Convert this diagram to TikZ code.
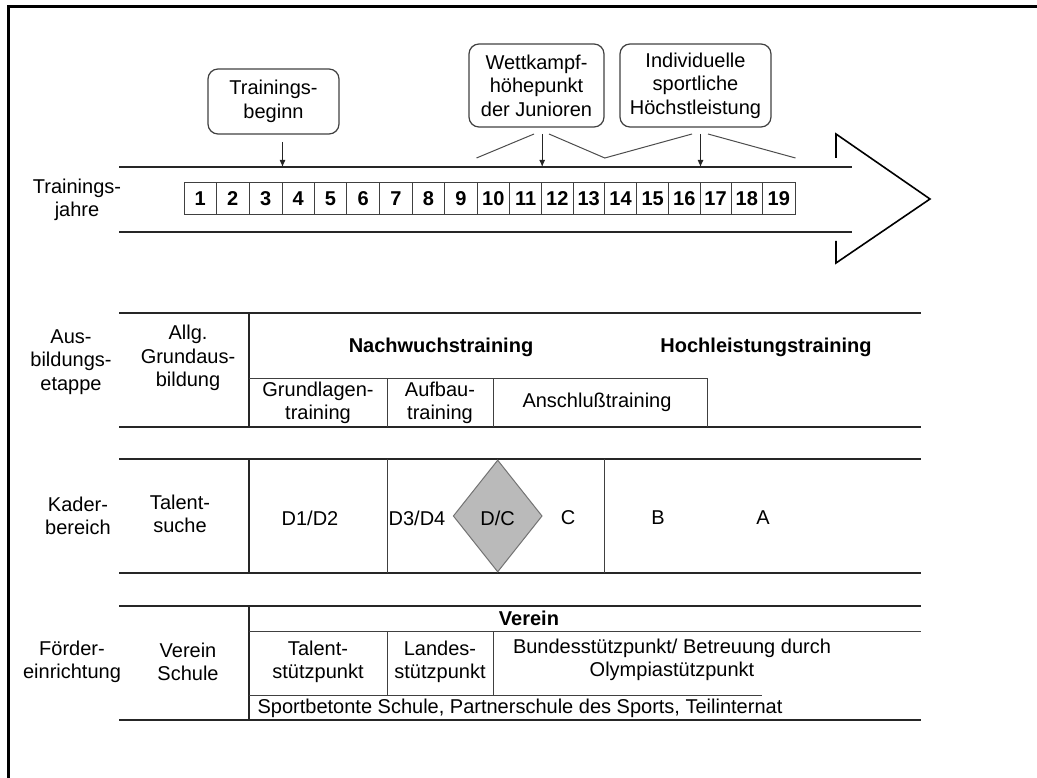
\documentclass[tikz,border=0pt]{standalone}
\usepackage{fontspec}
\setmainfont{Liberation Sans}
\usetikzlibrary{shapes.geometric,arrows.meta}
\begin{document}
\begin{tikzpicture}[x=1pt,y=-1pt,
  txt/.style={align=center,font=\fontsize{20}{23.5}\selectfont,inner sep=0pt},
  btxt/.style={align=center,font=\fontsize{20}{23.5}\selectfont\bfseries,inner sep=0pt},
  rule/.style={line width=2.2pt,draw=black!85},
  sep/.style={line width=1pt,draw=black!75},
  callout/.style={txt,draw=black!75,line width=1.2pt,rounded corners=10pt},
  yearbox/.style={draw=black!75,line width=1pt,minimum height=32pt,inner sep=0pt,
    font=\fontsize{20}{23.5}\selectfont\bfseries},
  pointer/.style={line width=1pt,draw=black!85,-{Latex[length=7pt,width=6pt]}},
  brace/.style={line width=1pt,draw=black!70},
  outline/.style={line width=1.6pt,draw=black},
  frame/.style={line width=3pt,draw=black}]
\useasboundingbox (0,0) rectangle (1037,778);

% outer frame (top and left edges)
\coordinate (f-tl) at (8,7);
\coordinate (f-tr) at (1037,7);
\coordinate (f-bl) at (8,778);
\draw[frame] (f-tr) -- (f-tl) -- (f-bl);

% ---------------- time line ----------------
\coordinate (tl-a) at (119,167);
\coordinate (tl-b) at (852,167);
\coordinate (bl-a) at (119,232);
\coordinate (bl-b) at (852,232);
\draw[rule,line width=2pt] (tl-a) -- (tl-b);
\draw[rule,line width=2pt] (bl-a) -- (bl-b);
% arrow head
\coordinate (ah-1) at (836,158);
\coordinate (ah-2) at (836,134);
\coordinate (ah-tip) at (930,199);
\coordinate (ah-3) at (836,263);
\coordinate (ah-4) at (836,241);
\draw[outline,line join=miter] (ah-1) -- (ah-2) -- (ah-tip) -- (ah-3) -- (ah-4);

\node[txt] (tj) at (77,200) {Trainings-\\jahre};

% year boxes
\foreach \i/\a/\b in {1/184/216.3,2/216.3/249.3,3/249.3/282,4/282/314.3,5/314.3/346.7,
  6/346.7/379.7,7/379.7/412.3,8/412.3/444.7,9/444.7/477,10/477/509.5,11/509.5/541.7,
  12/541.7/573,13/573/604.3,14/604.3/636.7,15/636.7/668.7,16/668.7/700,17/700/731,
  18/731/762.7,19/762.7/795}
  \node[yearbox,minimum width={\b-\a}] (yr\i) at ({(\a+\b)/2},199) {\i};

% call-outs
\node[callout,minimum width=131pt,minimum height=65pt] (cb1) at (273.5,101.5)
  {Trainings-\\beginn};
\node[callout,minimum width=135pt,minimum height=83pt] (cb2) at (536.5,85.5)
  {Wettkampf-\\höhepunkt\\der Junioren};
\node[callout,minimum width=151pt,minimum height=83pt] (cb3) at (695.5,85.5)
  {Individuelle\\sportliche\\Höchstleistung};

% pointers onto the time line
\coordinate (p1) at (yr3.east |- 0,142);
\coordinate (p2) at (yr11.east |- 0,134);
\coordinate (p3) at (yr16.east |- 0,134);
\draw[pointer] (p1) -- (p1 |- tl-a);
\draw[pointer] (p2) -- (p2 |- tl-a);
\draw[pointer] (p3) -- (p3 |- tl-a);

% ranges covered by the call-outs
\coordinate (r1) at (yr10.west |- 0,158);
\coordinate (r2) at (yr13.east |- 0,158);
\coordinate (r3) at (yr19.east |- 0,158);
\coordinate (c2l) at (534,134);
\coordinate (c2r) at (549,134);
\coordinate (c3l) at (692,134);
\coordinate (c3r) at (708,134);
\draw[brace] (r1) -- (c2l);
\draw[brace] (c2r) -- (r2) -- (c3l);
\draw[brace] (c3r) -- (r3);

% ---------------- Ausbildungsetappe ----------------
\coordinate (a-t1) at (119,313);
\coordinate (a-t2) at (921,313);
\coordinate (a-b1) at (119,427);
\coordinate (a-b2) at (921,427);
\draw[rule] (a-t1) -- (a-t2);
\draw[rule] (a-b1) -- (a-b2);
\coordinate (a-v) at (249,313);
\draw[rule,line width=2pt] (a-v) -- (a-v |- a-b1);
\coordinate (a-m1) at (249,378);
\coordinate (a-m2) at (707,378);
\draw[sep] (a-m1) -- (a-m2) -- (a-m2 |- a-b1);
\coordinate (a-s1) at (387,378);
\coordinate (a-s2) at (493,378);
\draw[sep] (a-s1) -- (a-s1 |- a-b1);
\draw[sep] (a-s2) -- (a-s2 |- a-b1);

\node[txt] (ae) at (71,362) {Aus-\\bildungs-\\etappe};
\node[txt] (agb) at (188,358) {Allg.\\Grundaus-\\bildung};
\node[btxt] (nw) at (441,347) {Nachwuchstraining};
\node[btxt] (hl) at (766,347) {Hochleistungstraining};
\node[txt] (gl) at (318,403) {Grundlagen-\\training};
\node[txt] (ab) at (440,403) {Aufbau-\\training};
\node[txt] (an) at (597,402) {Anschlußtraining};

% ---------------- Kaderbereich ----------------
\coordinate (k-t1) at (119,459);
\coordinate (k-t2) at (921,459);
\coordinate (k-b1) at (119,573);
\coordinate (k-b2) at (921,573);
\draw[rule] (k-t1) -- (k-t2);
\draw[rule] (k-b1) -- (k-b2);
\coordinate (k-v) at (249,459);
\draw[rule,line width=2pt] (k-v) -- (k-v |- k-b1);
\coordinate (k-s1) at (387,459);
\coordinate (k-s2) at (604,459);
\draw[sep] (k-s1) -- (k-s1 |- k-b1);
\draw[sep] (k-s2) -- (k-s2 |- k-b1);

\node[diamond,draw=black!55,line width=1pt,fill=black!27,minimum width=89pt,
  minimum height=112pt,inner sep=0pt] (dc) at (497.7,516) {};
\node[txt] (dct) at (497.7,518) {D/C};

\node[txt] (kb) at (78,516) {Kader-\\bereich};
\node[txt] (ts) at (180,514) {Talent-\\suche};
\node[txt] (d12) at (310,518) {D1/D2};
\node[txt] (d34) at (417,518) {D3/D4};
\node[txt] (kc) at (568,518) {C};
\node[txt] (kbb) at (658,518) {B};
\node[txt] (ka) at (763,518) {A};

% ---------------- Fördereinrichtung ----------------
\coordinate (f-t1) at (119,606);
\coordinate (f-t2) at (921,606);
\coordinate (f-b1) at (119,720);
\coordinate (f-b2) at (921,720);
\draw[rule] (f-t1) -- (f-t2);
\draw[rule] (f-b1) -- (f-b2);
\coordinate (f-v) at (249,606);
\draw[rule,line width=2pt] (f-v) -- (f-v |- f-b1);
\coordinate (f-m1) at (249,631);
\coordinate (f-m2) at (921,631);
\draw[sep] (f-m1) -- (f-m2);
\coordinate (f-n1) at (249,695);
\coordinate (f-n2) at (762,695);
\draw[sep] (f-n1) -- (f-n2);
\coordinate (f-s1) at (387,631);
\coordinate (f-s2) at (493,631);
\draw[sep] (f-s1) -- (f-s1 |- f-n1);
\draw[sep] (f-s2) -- (f-s2 |- f-n1);

\node[txt] (fe) at (72,662) {Förder-\\einrichtung};
\node[txt] (vs) at (188,662) {Verein\\Schule};
\node[btxt] (ve) at (529,618) {Verein};
\node[txt] (tsp) at (318,662) {Talent-\\stützpunkt};
\node[txt] (lsp) at (440,662) {Landes-\\stützpunkt};
\node[txt] (bsp) at (672,660) {Bundesstützpunkt/ Betreuung durch\\Olympiastützpunkt};
\node[txt] (sb) at (520,708) {Sportbetonte Schule, Partnerschule des Sports, Teilinternat};
\end{tikzpicture}
\end{document}
